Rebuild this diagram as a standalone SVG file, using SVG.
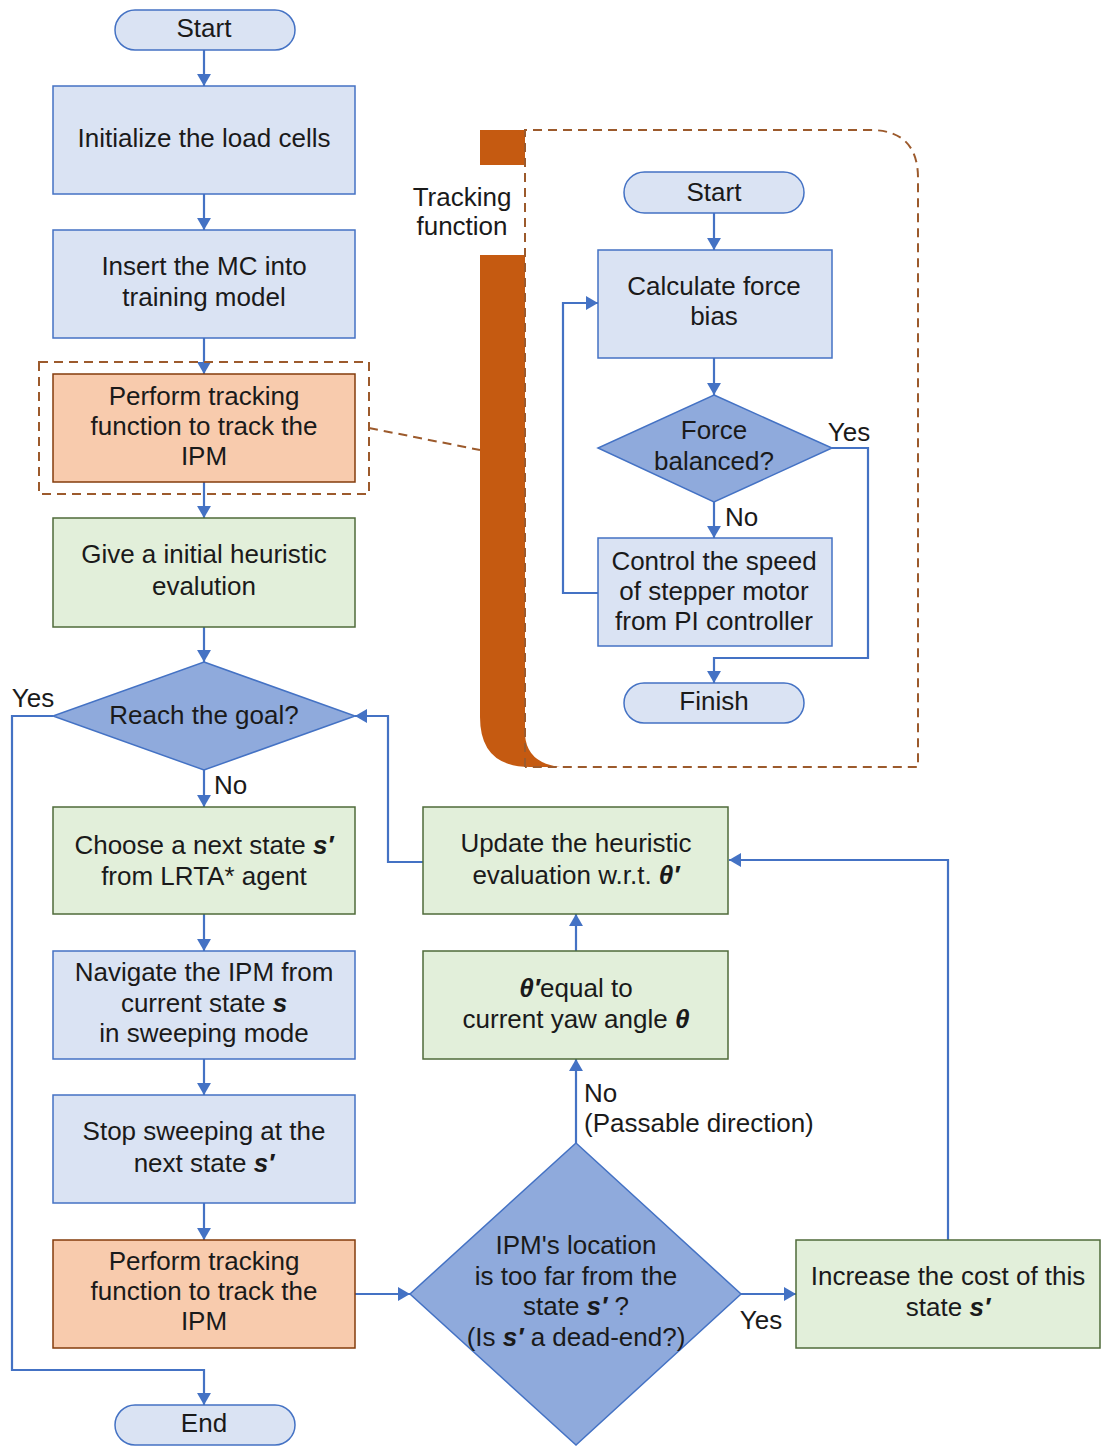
<svg xmlns="http://www.w3.org/2000/svg" width="1110" height="1447" viewBox="0 0 1110 1447">
<defs>
<marker id="ah" viewBox="0 0 10 10" refX="10" refY="5" markerWidth="5.6" markerHeight="6.5" orient="auto" markerUnits="strokeWidth" preserveAspectRatio="none">
<path d="M0,0 L10,5 L0,10 Z" fill="#4472C4"/>
</marker>
<style>
text{font-family:"Liberation Sans",Arial,sans-serif;font-size:26px;fill:#1a1a1a;text-anchor:middle}
.l{text-anchor:start}
.b{stroke:#4472C4;stroke-width:1.5;fill:#DAE3F3}
.g{stroke:#4F6B3A;stroke-width:1.5;fill:#E2EFDA}
.o{stroke:#843C0C;stroke-width:1.5;fill:#F8CBAD}
.d{stroke:#4472C4;stroke-width:1.5;fill:#8FAADC}
.p{stroke:#4472C4;stroke-width:1.5;fill:#DAE3F3}
.c{stroke:#4472C4;stroke-width:2.2;fill:none;marker-end:url(#ah)}
.n{stroke:#4472C4;stroke-width:2.2;fill:none}
.dash{stroke:#9C5A2C;stroke-width:2;fill:none;stroke-dasharray:9,6}
.bi{font-weight:bold;font-style:italic}
</style>
</defs>
<rect width="1110" height="1447" fill="#ffffff"/>

<!-- tracking function panel -->
<g id="panel">
<path d="M480,130 H525 V165 H480 Z" fill="#C55A11"/>
<path d="M480,255 H525 V735 Q527,763 560,767 H530 Q480,767 480,717 Z" fill="#C55A11"/>
<path class="dash" d="M525,767 V130 H870 Q918,130 918,178 V767 H525"/>
<text x="462" y="206">Tracking</text>
<text x="462" y="235">function</text>
</g>

<g id="connectors">
<path class="c" d="M204,50 V86"/>
<path class="c" d="M204,194 V230"/>
<path class="c" d="M204,338 V374"/>
<path class="c" d="M204,482 V518"/>
<path class="c" d="M204,627 V662"/>
<path class="c" d="M204,770 V807"/>
<path class="c" d="M204,914 V951"/>
<path class="c" d="M204,1059 V1095"/>
<path class="c" d="M204,1203 V1240"/>
<path class="c" d="M53,716 H12 V1370 H204 V1405"/>
<path class="c" d="M355,1294 H410"/>
<path class="c" d="M741,1294 H796"/>
<path class="c" d="M948,1240 V860 H729"/>
<path class="c" d="M576,1143 V1059"/>
<path class="c" d="M576,951 V914"/>
<path class="c" d="M423,862 H388 V716 H355"/>
<path class="dash" d="M369,428 L480,450"/>
<path class="c" d="M714,213 V250"/>
<path class="c" d="M714,358 V395"/>
<path class="c" d="M714,502 V538"/>
<path class="c" d="M832,448 H868 V658 H714 V683"/>
<path class="c" d="M598,593 H563 V303 H598"/>
<text x="33" y="707">Yes</text>
<text x="214" y="794" class="l">No</text>
<text x="584" y="1102" class="l">No</text>
<text x="584" y="1132" class="l">(Passable direction)</text>
<text x="761" y="1329">Yes</text>
<text x="849" y="441">Yes</text>
<text x="725" y="526" class="l">No</text>
</g>

<g id="start"><rect class="p" x="115" y="10" width="180" height="40" rx="20"/><text x="204" y="37">Start</text></g>
<g id="init"><rect class="b" x="53" y="86" width="302" height="108"/><text x="204" y="147">Initialize the load cells</text></g>
<g id="insert"><rect class="b" x="53" y="230" width="302" height="108"/><text x="204" y="275">Insert the MC into</text><text x="204" y="306">training model</text></g>
<g id="track1"><rect class="dash" x="39" y="362" width="330" height="132"/><rect class="o" x="53" y="374" width="302" height="108"/><text x="204" y="405">Perform tracking</text><text x="204" y="435">function to track the</text><text x="204" y="465">IPM</text></g>
<g id="initial"><rect class="g" x="53" y="518" width="302" height="109"/><text x="204" y="563">Give a initial heuristic</text><text x="204" y="595">evalution</text></g>
<g id="goal"><path class="d" d="M204,662 L355,716 L204,770 L53,716 Z"/><text x="204" y="724">Reach the goal?</text></g>
<g id="choose"><rect class="g" x="53" y="807" width="302" height="107"/><text x="204" y="854">Choose a next state <tspan class="bi">s′</tspan></text><text x="204" y="885">from LRTA* agent</text></g>
<g id="navigate"><rect class="b" x="53" y="951" width="302" height="108"/><text x="204" y="981">Navigate the IPM from</text><text x="204" y="1012">current state <tspan class="bi">s</tspan></text><text x="204" y="1042">in sweeping mode</text></g>
<g id="stop"><rect class="b" x="53" y="1095" width="302" height="108"/><text x="204" y="1140">Stop sweeping at the</text><text x="204" y="1172">next state <tspan class="bi">s′</tspan></text></g>
<g id="track2"><rect class="o" x="53" y="1240" width="302" height="108"/><text x="204" y="1270">Perform tracking</text><text x="204" y="1300">function to track the</text><text x="204" y="1330">IPM</text></g>
<g id="end"><rect class="p" x="115" y="1405" width="180" height="40" rx="20"/><text x="204" y="1432">End</text></g>

<g id="update"><rect class="g" x="423" y="807" width="305" height="107"/><text x="576" y="852">Update the heuristic</text><text x="576" y="884">evaluation w.r.t. <tspan class="bi">θ′</tspan></text></g>
<g id="theta"><rect class="g" x="423" y="951" width="305" height="108"/><text x="576" y="997"><tspan class="bi">θ′</tspan>equal to</text><text x="576" y="1028">current yaw angle <tspan class="bi">θ</tspan></text></g>
<g id="deadend"><path class="d" d="M576,1143 L741,1294 L576,1445 L410,1294 Z"/><text x="576" y="1254">IPM's location</text><text x="576" y="1285">is too far from the</text><text x="576" y="1315">state <tspan class="bi">s′</tspan> ?</text><text x="576" y="1346">(Is <tspan class="bi">s′</tspan> a dead-end?)</text></g>
<g id="increase"><rect class="g" x="796" y="1240" width="304" height="108"/><text x="948" y="1285">Increase the cost of this</text><text x="948" y="1316">state <tspan class="bi">s′</tspan></text></g>

<g id="tstart"><rect class="p" x="624" y="172" width="180" height="41" rx="20.5"/><text x="714" y="201">Start</text></g>
<g id="calc"><rect class="b" x="598" y="250" width="234" height="108"/><text x="714" y="295">Calculate force</text><text x="714" y="325">bias</text></g>
<g id="balanced"><path class="d" d="M714,395 L832,448 L714,502 L598,448 Z"/><text x="714" y="439">Force</text><text x="714" y="470">balanced?</text></g>
<g id="control"><rect class="b" x="598" y="538" width="234" height="108"/><text x="714" y="570">Control the speed</text><text x="714" y="600">of stepper motor</text><text x="714" y="630">from PI controller</text></g>
<g id="finish"><rect class="p" x="624" y="683" width="180" height="40" rx="20"/><text x="714" y="710">Finish</text></g>
</svg>
